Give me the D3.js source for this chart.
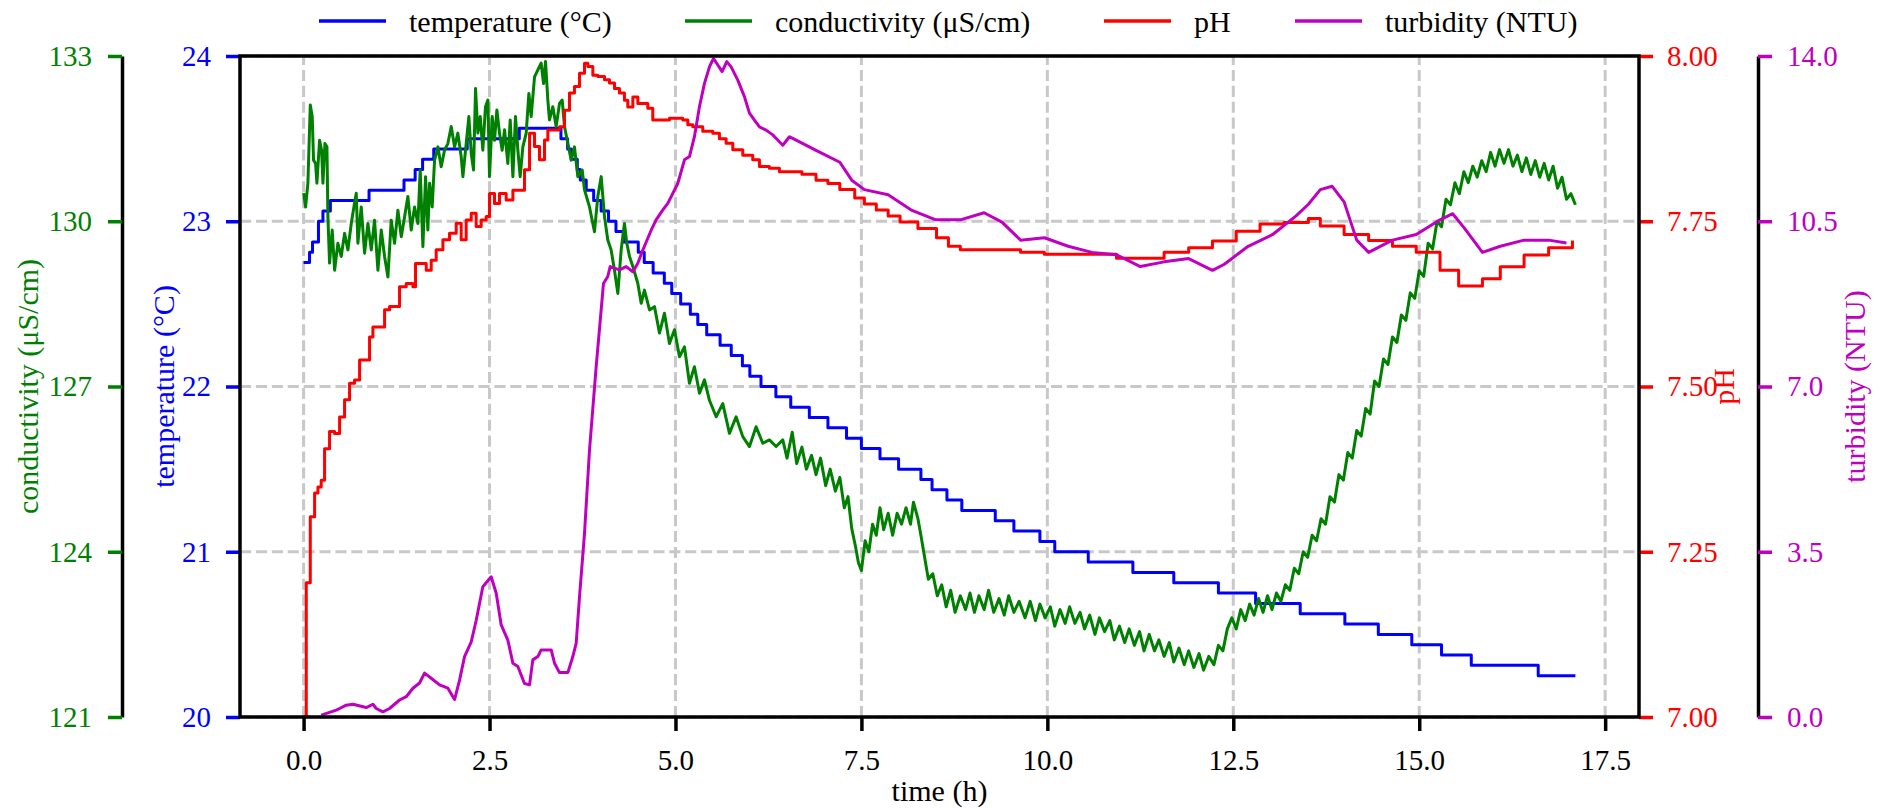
<!DOCTYPE html>
<html><head><meta charset="utf-8">
<script src="https://cdn.jsdelivr.net/npm/d3@7"></script>
<style>
body{margin:0;background:#fff}
svg text{font-family:"Liberation Serif","DejaVu Serif",serif;}
</style>
</head><body><svg id="c" width="1883" height="808"></svg>
<script>
// ---- data ----
const xTicks = [0, 2.5, 5, 7.5, 10, 12.5, 15, 17.5];
const tempTicks = [20, 21, 22, 23, 24];
const condTicks = [121, 124, 127, 130, 133];
const phTicks = [7.0, 7.25, 7.5, 7.75, 8.0];
const turbTicks = [0, 3.5, 7, 10.5, 14];
const legendLabels = ["temperature (°C)", "conductivity (μS/cm)", "pH", "turbidity (NTU)"];

const temperature = [[0,22.75],[0.08,22.8125],[0.12,22.875],[0.2,23.0],[0.26,23.0625],[0.36,23.125],[0.88,23.1875],[1.35,23.25],[1.5,23.3125],[1.6,23.375],[1.75,23.4375],[2.2,23.5],[2.9,23.5625],[3.46,23.5],[3.55,23.4375],[3.6,23.375],[3.68,23.3125],[3.72,23.25],[3.8,23.1875],[3.9,23.125],[4.0,23.0625],[4.1,23.0],[4.2,22.9375],[4.3,22.875],[4.5,22.8125],[4.58,22.75],[4.7,22.6875],[4.85,22.625],[4.95,22.5625],[5.07,22.5],[5.2,22.4375],[5.3,22.375],[5.42,22.3125],[5.6,22.25],[5.75,22.1875],[5.9,22.125],[6.0,22.0625],[6.15,22.0],[6.35,21.9375],[6.55,21.875],[6.8,21.8125],[7.05,21.75],[7.3,21.6875],[7.5,21.625],[7.75,21.5625],[8.0,21.5],[8.3,21.4375],[8.45,21.375],[8.65,21.3125],[8.85,21.25],[9.3,21.1875],[9.55,21.125],[9.9,21.0625],[10.1,21.0],[10.55,20.9375],[11.15,20.875],[11.7,20.8125],[12.3,20.75],[12.8,20.6875],[13.4,20.625],[14.0,20.5625],[14.45,20.5],[14.9,20.4375],[15.3,20.375],[15.7,20.3125],[16.6,20.25],[17.1,20.25]];

const conductivity = [[0,130.51],[0.027,130.26],[0.058,130.69],[0.09,132.11],[0.116,131.9],[0.134,131.11],[0.161,131.05],[0.179,130.69],[0.215,131.47],[0.242,131.29],[0.26,130.69],[0.287,131.41],[0.314,131.35],[0.327,130.08],[0.349,129.24],[0.385,129.84],[0.417,129.11],[0.461,129.6],[0.506,129.36],[0.551,129.78],[0.596,129.48],[0.641,129.96],[0.685,130.33],[0.708,130.51],[0.73,129.6],[0.775,130.26],[0.82,129.42],[0.865,129.96],[0.91,129.48],[0.954,130.02],[0.999,129.11],[1.044,129.84],[1.089,129.36],[1.134,128.99],[1.178,130.02],[1.223,129.6],[1.268,130.2],[1.313,129.72],[1.358,130.08],[1.402,130.45],[1.447,129.84],[1.492,130.26],[1.537,129.96],[1.568,130.93],[1.604,129.54],[1.64,130.81],[1.671,129.84],[1.694,130.69],[1.729,130.26],[1.761,131.11],[1.806,131.35],[1.85,130.99],[1.895,131.29],[1.94,131.41],[1.985,131.72],[2.03,131.35],[2.074,131.6],[2.119,131.17],[2.142,130.81],[2.186,131.41],[2.222,131.9],[2.254,131.23],[2.285,130.93],[2.312,132.41],[2.343,131.6],[2.375,131.9],[2.41,131.29],[2.446,132.08],[2.478,132.2],[2.5,130.81],[2.536,131.9],[2.567,131.47],[2.599,132.02],[2.634,131.6],[2.67,131.29],[2.702,131.66],[2.746,131.05],[2.778,131.84],[2.814,130.81],[2.849,131.9],[2.881,131.29],[2.912,130.81],[2.948,131.35],[2.993,131.6],[3.029,132.32],[3.06,131.9],[3.105,132.62],[3.15,132.75],[3.194,132.87],[3.226,132.5],[3.253,132.9],[3.284,132.2],[3.306,131.84],[3.351,132.08],[3.396,131.72],[3.441,132.14],[3.477,132.2],[3.508,131.72],[3.553,131.41],[3.598,131.11],[3.642,131.35],[3.687,130.81],[3.746,130.93],[3.777,130.57],[3.844,130.26],[3.911,129.81],[3.956,130.45],[4.001,130.81],[4.046,130.08],[4.09,129.66],[4.135,129.48],[4.18,129.11],[4.225,128.69],[4.27,129.48],[4.314,129.96],[4.346,129.6],[4.382,129.36],[4.427,129.18],[4.494,128.87],[4.539,128.51],[4.583,128.75],[4.651,128.39],[4.718,128.45],[4.785,127.97],[4.852,128.33],[4.919,127.78],[4.987,128.03],[5.054,127.54],[5.121,127.72],[5.188,127.06],[5.255,127.36],[5.323,126.88],[5.39,127.12],[5.457,126.75],[5.547,126.45],[5.636,126.69],[5.726,126.15],[5.815,126.45],[5.905,126.09],[5.995,125.91],[6.084,126.27],[6.174,125.97],[6.263,126.03],[6.353,125.91],[6.443,126.03],[6.5,125.7],[6.57,126.17],[6.63,125.6],[6.7,125.9],[6.76,125.5],[6.83,125.75],[6.89,125.4],[6.95,125.7],[7.02,125.2],[7.08,125.5],[7.15,125.1],[7.21,125.35],[7.27,124.8],[7.32,125.0],[7.37,124.42],[7.42,124.1],[7.46,123.8],[7.5,123.66],[7.55,124.2],[7.6,124.0],[7.65,124.5],[7.7,124.3],[7.75,124.8],[7.8,124.4],[7.86,124.7],[7.92,124.3],[7.98,124.7],[8.04,124.5],[8.1,124.8],[8.16,124.5],[8.2,124.9],[8.26,124.6],[8.3,124.3],[8.35,123.9],[8.4,123.5],[8.46,123.6],[8.52,123.2],[8.58,123.4],[8.64,123.0],[8.7,123.3],[8.76,122.9],[8.83,123.2],[8.9,122.95],[8.96,123.25],[9.02,122.9],[9.08,123.2],[9.15,122.95],[9.21,123.3],[9.28,122.9],[9.35,123.15],[9.42,122.85],[9.48,123.2],[9.55,122.9],[9.62,123.1],[9.7,122.8],[9.77,123.1],[9.84,122.75],[9.9,123.05],[9.97,122.8],[10.04,123.0],[10.1,122.65],[10.17,122.95],[10.24,122.7],[10.3,123.0],[10.37,122.7],[10.44,122.9],[10.5,122.6],[10.57,122.85],[10.64,122.5],[10.7,122.8],[10.77,122.55],[10.84,122.75],[10.9,122.4],[10.97,122.65],[11.04,122.35],[11.1,122.6],[11.17,122.3],[11.24,122.55],[11.3,122.2],[11.37,122.5],[11.44,122.2],[11.5,122.4],[11.57,122.1],[11.64,122.35],[11.7,122.0],[11.77,122.25],[11.84,121.95],[11.9,122.2],[11.97,121.9],[12.04,122.15],[12.1,121.85],[12.17,122.1],[12.24,121.95],[12.3,122.3],[12.36,122.2],[12.42,122.6],[12.48,122.8],[12.54,122.6],[12.6,122.95],[12.66,122.75],[12.72,123.05],[12.78,122.85],[12.84,123.15],[12.9,122.9],[12.96,123.2],[13.02,122.95],[13.08,123.25],[13.14,123.1],[13.2,123.4],[13.26,123.3],[13.32,123.7],[13.38,123.6],[13.44,124.0],[13.5,123.9],[13.56,124.3],[13.62,124.2],[13.68,124.6],[13.74,124.5],[13.8,125.0],[13.86,124.9],[13.92,125.4],[13.98,125.3],[14.04,125.8],[14.1,125.7],[14.16,126.2],[14.22,126.1],[14.28,126.6],[14.34,126.5],[14.4,127.1],[14.46,127.0],[14.52,127.5],[14.58,127.4],[14.64,127.9],[14.7,127.8],[14.76,128.3],[14.82,128.2],[14.88,128.7],[14.94,128.6],[15.0,129.1],[15.06,129.0],[15.12,129.6],[15.18,129.5],[15.24,130.0],[15.3,129.9],[15.36,130.4],[15.42,130.3],[15.48,130.7],[15.54,130.5],[15.6,130.9],[15.66,130.7],[15.72,131.0],[15.78,130.8],[15.84,131.1],[15.9,130.9],[15.96,131.25],[16.02,131.0],[16.08,131.3],[16.14,131.05],[16.2,131.3],[16.26,131.0],[16.32,131.2],[16.38,130.9],[16.44,131.15],[16.5,130.85],[16.56,131.1],[16.62,130.8],[16.68,131.05],[16.74,130.75],[16.8,131.0],[16.86,130.6],[16.92,130.8],[16.98,130.4],[17.04,130.5],[17.1,130.3]];

const pH = [[0,7.0],[0.036,7.203],[0.09,7.303],[0.148,7.339],[0.193,7.348],[0.237,7.358],[0.282,7.406],[0.349,7.432],[0.417,7.429],[0.484,7.454],[0.551,7.48],[0.618,7.505],[0.685,7.51],[0.753,7.54],[0.82,7.54],[0.887,7.575],[0.932,7.59],[1.02,7.59],[1.089,7.616],[1.156,7.621],[1.245,7.621],[1.29,7.651],[1.38,7.656],[1.47,7.651],[1.505,7.686],[1.604,7.686],[1.649,7.676],[1.716,7.691],[1.783,7.707],[1.873,7.722],[1.962,7.732],[2.052,7.747],[2.119,7.722],[2.186,7.752],[2.254,7.762],[2.32,7.742],[2.388,7.752],[2.455,7.757],[2.5,7.792],[2.567,7.777],[2.634,7.792],[2.724,7.782],[2.814,7.797],[2.903,7.797],[2.97,7.828],[3.038,7.883],[3.105,7.863],[3.172,7.843],[3.239,7.873],[3.284,7.888],[3.351,7.888],[3.441,7.893],[3.508,7.918],[3.575,7.944],[3.642,7.954],[3.71,7.974],[3.777,7.989],[3.822,7.984],[3.889,7.971],[3.956,7.969],[4.046,7.964],[4.113,7.959],[4.18,7.951],[4.247,7.944],[4.314,7.933],[4.359,7.923],[4.427,7.938],[4.494,7.928],[4.561,7.928],[4.628,7.921],[4.695,7.903],[4.785,7.903],[4.919,7.906],[5.099,7.903],[5.166,7.896],[5.233,7.893],[5.367,7.886],[5.502,7.883],[5.591,7.875],[5.681,7.868],[5.771,7.858],[5.905,7.85],[6.039,7.843],[6.129,7.833],[6.263,7.83],[6.398,7.825],[6.532,7.825],[6.7,7.821],[6.89,7.812],[7.05,7.807],[7.21,7.798],[7.41,7.785],[7.54,7.776],[7.7,7.767],[7.86,7.758],[8.02,7.749],[8.26,7.739],[8.51,7.725],[8.67,7.712],[8.83,7.707],[9.31,7.707],[9.64,7.703],[9.96,7.7],[10.44,7.7],[10.93,7.694],[11.25,7.694],[11.57,7.703],[11.9,7.71],[12.22,7.72],[12.54,7.735],[12.86,7.746],[13.18,7.748],[13.51,7.754],[13.67,7.743],[13.99,7.73],[14.32,7.721],[14.64,7.712],[14.96,7.703],[15.28,7.676],[15.53,7.652],[15.85,7.663],[16.09,7.681],[16.41,7.699],[16.74,7.71],[17.06,7.721]];

const turbidity = [[0.237,0.04],[0.44,0.147],[0.484,0.18],[0.573,0.25],[0.663,0.27],[0.842,0.2],[0.932,0.27],[0.977,0.18],[1.066,0.11],[1.156,0.18],[1.29,0.36],[1.38,0.43],[1.47,0.61],[1.559,0.72],[1.626,0.93],[1.716,0.82],[1.828,0.68],[1.94,0.61],[2.03,0.37],[2.097,0.78],[2.164,1.28],[2.254,1.59],[2.321,2.05],[2.41,2.76],[2.522,2.97],[2.59,2.62],[2.657,1.95],[2.746,1.63],[2.814,1.14],[2.881,1.07],[2.97,0.71],[3.038,0.68],[3.082,1.21],[3.15,1.28],[3.194,1.42],[3.329,1.42],[3.374,1.14],[3.441,0.94],[3.553,0.94],[3.62,1.28],[3.665,1.56],[3.71,2.55],[3.777,3.89],[3.844,5.65],[3.934,7.42],[4.032,9.18],[4.09,9.33],[4.122,9.54],[4.247,9.47],[4.337,9.54],[4.427,9.43],[4.494,9.61],[4.561,9.89],[4.673,10.31],[4.74,10.53],[4.83,10.74],[4.897,10.88],[4.964,11.09],[5.031,11.3],[5.121,11.8],[5.188,11.87],[5.255,12.29],[5.323,12.93],[5.39,13.42],[5.457,13.77],[5.511,13.95],[5.569,13.81],[5.627,13.67],[5.69,13.88],[5.748,13.77],[5.838,13.49],[5.927,13.14],[5.995,12.79],[6.062,12.64],[6.129,12.5],[6.219,12.43],[6.308,12.33],[6.375,12.22],[6.443,12.11],[6.532,12.29],[6.57,12.26],[6.89,12.0],[7.21,11.75],[7.37,11.37],[7.54,11.17],[7.86,11.06],[8.18,10.73],[8.5,10.53],[8.83,10.53],[9.15,10.68],[9.39,10.48],[9.64,10.1],[9.96,10.15],[10.28,9.97],[10.6,9.84],[10.93,9.79],[11.25,9.54],[11.57,9.64],[11.9,9.71],[12.22,9.46],[12.38,9.59],[12.7,9.97],[13.03,10.22],[13.34,10.61],[13.51,10.86],[13.67,11.17],[13.83,11.24],[13.99,10.91],[14.16,10.1],[14.32,9.84],[14.64,10.1],[14.96,10.22],[15.28,10.53],[15.45,10.66],[15.61,10.35],[15.85,9.84],[16.09,9.97],[16.41,10.1],[16.74,10.1],[16.98,10.04]];

// ---- layout ----
const W = 1883, H = 808;
const L = 240, R = 1639, T = 56, B = 717;
const FS = 29, FSL = 30;
const FONT = '"Liberation Serif","DejaVu Serif",serif';
const svg = d3.select("#c");
svg.append("rect").attr("width", W).attr("height", H).attr("fill", "#fff");

const x = d3.scaleLinear().domain([-0.855, 17.955]).range([L, R]);
const yT = d3.scaleLinear().domain([20, 24]).range([B, T]);
const yC = d3.scaleLinear().domain([121, 133]).range([B, T]);
const yP = d3.scaleLinear().domain([7, 8]).range([B, T]);
const yN = d3.scaleLinear().domain([0, 14]).range([B, T]);

const colors = {temp: "#0000ff", cond: "#008000", ph: "#ff0000", turb: "#bf00bf"};

svg.append("defs").append("clipPath").attr("id", "clip")
  .append("rect").attr("x", L).attr("y", T).attr("width", R - L).attr("height", B - T);

// grid
const grid = svg.append("g").attr("stroke", "#c8c8c8").attr("stroke-width", 3).attr("stroke-dasharray", "11.1,4.8");
grid.selectAll(".gx").data(xTicks).join("line")
  .attr("x1", d => x(d)).attr("x2", d => x(d)).attr("y1", B).attr("y2", T);
grid.selectAll(".gy").data(tempTicks).join("line")
  .attr("x1", L).attr("x2", R).attr("y1", d => yT(d)).attr("y2", d => yT(d));

// lines
const plot = svg.append("g").attr("clip-path", "url(#clip)");
function drawLine(data, yScale, color, curve) {
  plot.append("path").datum(data)
    .attr("fill", "none").attr("stroke", color).attr("stroke-width", 3)
    .attr("stroke-linejoin", "round").attr("stroke-linecap", "butt")
    .attr("d", d3.line().x(d => x(d[0])).y(d => yScale(d[1])).curve(curve || d3.curveLinear));
}
drawLine(temperature, yT, colors.temp, d3.curveStepAfter);
drawLine(conductivity, yC, colors.cond);
drawLine(pH, yP, colors.ph, d3.curveStepAfter);
drawLine(turbidity, yN, colors.turb);

// axes
function styleAxis(g, color, domainColor) {
  g.attr("font-family", FONT).attr("font-size", FS);
  g.selectAll(".tick line").attr("stroke", color).attr("stroke-width", 3.5);
  g.selectAll(".tick text").attr("fill", color).attr("font-size", FS).attr("font-family", FONT);
  g.select(".domain").attr("stroke", domainColor || "none").attr("stroke-width", 3.5);
}
const gx = svg.append("g").attr("transform", `translate(0,${B})`)
  .call(d3.axisBottom(x).tickValues(xTicks).tickFormat(d3.format(".1f")).tickSize(14).tickPadding(18).tickSizeOuter(0));
styleAxis(gx, "#000", "none");

const gT = svg.append("g").attr("transform", `translate(${L},0)`)
  .call(d3.axisLeft(yT).tickValues(tempTicks).tickFormat(d3.format("d")).tickSize(14).tickPadding(15).tickSizeOuter(0));
styleAxis(gT, colors.temp, "none");

const gC = svg.append("g").attr("transform", `translate(122,0)`)
  .call(d3.axisLeft(yC).tickValues(condTicks).tickFormat(d3.format("d")).tickSize(14).tickPadding(16).tickSizeOuter(0));
styleAxis(gC, colors.cond, "#000");

const gP = svg.append("g").attr("transform", `translate(${R},0)`)
  .call(d3.axisRight(yP).tickValues(phTicks).tickFormat(d3.format(".2f")).tickSize(14).tickPadding(14).tickSizeOuter(0));
styleAxis(gP, colors.ph, "none");

const gN = svg.append("g").attr("transform", `translate(1758,0)`)
  .call(d3.axisRight(yN).tickValues(turbTicks).tickFormat(d3.format(".1f")).tickSize(14).tickPadding(15).tickSizeOuter(0));
styleAxis(gN, colors.turb, "#000");

// frame
svg.append("rect").attr("x", L).attr("y", T).attr("width", R - L).attr("height", B - T)
  .attr("fill", "none").attr("stroke", "#000").attr("stroke-width", 3.5);

// axis labels
svg.append("text").attr("x", (L + R) / 2).attr("y", 801).attr("text-anchor", "middle")
  .attr("font-family", FONT).attr("font-size", FSL).text("time (h)");
function yLabel(xp, txt, color) {
  svg.append("text").attr("transform", `translate(${xp},${(T + B) / 2}) rotate(-90)`)
    .attr("text-anchor", "middle").attr("font-family", FONT).attr("font-size", FSL).attr("fill", color).text(txt);
}
yLabel(38, "conductivity (μS/cm)", colors.cond);
yLabel(174, "temperature (°C)", colors.temp);
yLabel(1734, "pH", colors.ph);
yLabel(1865, "turbidity (NTU)", colors.turb);

// legend
const legendStarts = [319, 685, 1104, 1295];
const legendColors = [colors.temp, colors.cond, colors.ph, colors.turb];
const lg = svg.append("g");
legendLabels.forEach((lab, i) => {
  lg.append("line").attr("x1", legendStarts[i]).attr("x2", legendStarts[i] + 67)
    .attr("y1", 21).attr("y2", 21).attr("stroke", legendColors[i]).attr("stroke-width", 3.5);
  lg.append("text").attr("x", legendStarts[i] + 90).attr("y", 32).attr("font-family", FONT).attr("font-size", FSL).text(lab);
});
</script></body></html>
